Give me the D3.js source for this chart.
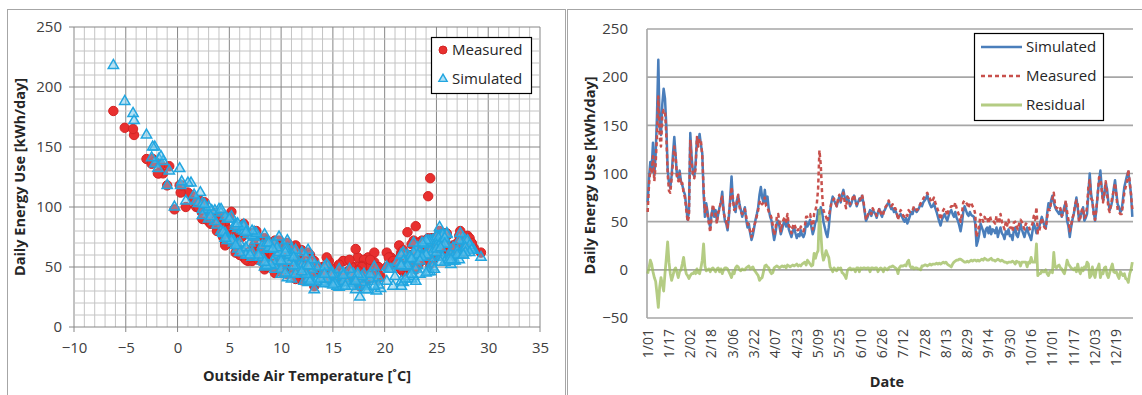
<!DOCTYPE html>
<html>
<head>
<meta charset="utf-8">
<script src="https://cdn.jsdelivr.net/npm/d3@7"></script>
<style>
  body { margin: 0; background: #fff; }
  svg { display: block; font-family: "Open Sans", sans-serif; }
</style>
</head>
<body>
<svg id="chart" width="1142" height="395"></svg>
<script>
// Daily values, 1 Jan .. 31 Dec (365 days)
const simulated = [
  70,95,112,105,132,98,120,160,218,150,140,172,188,178,150,105,90,85,98,120,138,118,98,95,103,92,88,82,78,65,52,
  60,142,118,100,97,110,136,132,141,130,121,80,55,69,60,50,44,58,65,55,62,51,58,65,70,81,62,51,
  48,41,55,75,97,72,65,60,72,77,68,62,55,60,65,52,44,48,38,31,36,44,52,58,65,78,86,75,70,83,68,
  76,62,55,51,40,31,38,48,51,45,37,42,48,51,45,52,42,38,34,40,44,38,33,37,35,41,36,34,38,50,
  45,48,52,44,37,42,50,51,62,58,65,60,50,44,38,34,44,60,70,76,72,69,66,72,76,70,78,83,75,72,76,
  72,66,69,74,77,72,66,70,74,72,77,70,60,51,54,58,62,56,62,60,58,54,60,63,58,55,60,62,65,68,
  70,66,63,64,60,62,58,54,56,58,55,52,50,54,48,52,56,60,58,64,62,60,62,65,69,66,70,72,74,78,72,
  68,65,66,69,64,60,55,50,46,52,55,58,54,51,56,60,62,58,55,60,54,51,46,40,48,60,66,62,58,56,60,
  57,56,55,48,25,30,37,48,44,40,34,42,44,38,45,37,42,41,38,44,34,40,44,38,36,32,40,37,42,35,
  36,31,41,44,36,34,40,48,42,38,34,40,44,38,35,31,40,48,44,38,44,44,50,55,50,46,43,58,69,64,72,
  77,70,65,62,60,58,62,55,60,66,70,51,45,34,44,52,58,66,75,64,51,56,60,65,51,54,58,80,100,79,
  70,60,51,62,79,92,103,85,72,78,90,84,70,62,66,72,84,93,80,68,65,60,62,74,86,92,98,102,90,79,55
];
const measured = [
  60,88,105,100,118,92,110,140,180,138,128,160,166,165,140,100,82,80,95,112,128,118,96,92,100,88,90,80,75,62,50,
  55,135,112,98,95,105,138,128,136,134,118,85,60,66,56,48,39,55,68,60,58,48,60,62,72,76,60,54,
  50,44,58,70,86,75,62,64,70,78,65,60,58,62,63,55,48,45,40,34,40,46,50,56,62,70,72,68,70,75,66,
  65,60,58,54,46,36,42,55,58,50,40,48,52,55,50,58,46,44,38,45,48,44,40,42,40,45,42,40,45,55,
  55,56,58,50,42,58,62,68,84,124,109,79,62,58,55,50,56,62,70,72,74,70,66,74,78,72,76,80,70,64,76,
  74,68,70,75,78,70,68,72,72,74,78,72,62,52,56,60,60,58,64,61,60,56,58,64,60,56,58,64,66,68,
  72,68,66,68,64,64,60,52,58,62,60,56,55,58,56,62,60,62,62,66,64,62,63,66,69,70,74,76,78,80,76,
  74,70,72,75,70,66,62,58,52,58,62,64,62,56,62,64,66,66,64,70,64,60,56,50,58,70,72,70,68,64,70,
  69,66,64,58,34,40,46,58,54,50,55,52,54,48,56,51,52,50,48,56,48,50,58,50,46,42,50,46,52,44,
  44,40,49,50,45,42,48,52,50,46,42,48,47,46,42,44,48,56,52,65,38,40,46,54,48,44,43,54,63,62,70,
  74,80,67,64,64,62,64,56,58,62,72,60,52,40,46,54,58,68,72,68,50,54,62,64,54,56,66,86,93,74,
  72,56,52,64,78,96,95,82,70,80,92,80,64,60,68,76,82,90,78,62,60,58,58,68,80,86,92,104,92,78,63
];
const residual = [
  -4,2,10,6,-2,-8,-12,-25,-39,-18,-8,-15,-22,-4,12,29,8,-4,-11,-6,0,2,-3,-8,-2,0,6,13,2,-4,-6,
  -9,-6,-4,-4,-2,-4,1,-3,-4,2,10,27,4,-1,0,1,-2,1,2,0,-2,1,2,-2,1,-4,0,2,
  2,1,-2,-5,-8,-2,-4,2,4,3,0,-1,1,0,0,2,3,4,1,2,3,0,-2,-4,-6,-11,-9,-8,-2,4,5,
  3,2,-2,-4,-3,2,3,4,3,2,3,4,3,4,2,5,4,3,4,5,4,5,6,4,5,4,6,7,8,5,
  10,8,6,4,5,17,12,17,20,62,40,18,10,14,20,16,13,3,1,-2,2,0,-1,2,1,2,-3,-4,-6,-9,-1,
  1,2,0,1,1,-2,2,2,-2,2,1,2,2,1,2,2,-2,2,2,1,2,2,-2,1,2,1,-2,2,1,0,
  2,3,3,4,3,2,1,-4,2,4,4,4,5,4,8,10,4,2,3,1,2,2,1,1,0,4,4,5,5,4,5,
  6,5,6,6,6,7,6,7,6,7,8,7,8,6,5,4,3,6,8,9,10,10,11,11,10,9,8,8,9,8,9,
  10,9,10,10,9,10,9,10,11,10,12,11,10,10,11,12,10,10,9,10,11,10,9,10,9,8,8,7,8,8,
  8,9,8,6,9,8,8,4,8,8,8,8,3,8,7,13,8,8,8,27,-6,-4,-4,-1,-2,-2,0,-4,-6,-2,-2,
  -3,18,3,2,4,5,2,1,-2,-4,2,10,6,4,2,1,0,2,-2,6,-1,-4,2,-1,3,2,8,6,-8,-6,
  3,-4,-8,0,2,6,-8,-3,-4,2,3,-5,-8,-3,2,6,-2,-3,-2,-6,-9,-2,-4,-6,-4,-9,-10,-13,-4,0,8
];
const outsideTemp = [
  7.0,3.0,2.2,1.8,0.2,4.0,1.3,-3.0,-6.2,-2.2,-1.8,-4.2,-5.1,-4.3,-2.4,0.8,4.8,3.8,2.4,1.0,-1.4,-1.0,2.8,4.2,2.0,4.6,3.6,5.8,4.4,8.2,10.2,
  6.8,-1.6,0.3,-0.3,3.6,1.6,-2.2,-1.9,-2.5,-0.8,0.4,4.2,10.2,5.8,9.6,8.4,12.0,7.2,9.0,10.8,6.4,11.6,7.8,8.8,5.4,6.2,9.8,8.8,
  12.2,10.6,11.0,4.8,3.3,7.6,5.8,9.6,5.4,6.8,8.2,6.4,10.6,7.0,9.0,8.6,13.0,9.4,14.4,13.2,15.6,10.0,11.8,7.8,11.0,4.6,5.6,7.4,8.8,6.2,10.2,
  7.2,10.4,8.2,12.0,11.0,17.2,12.2,13.0,9.4,14.0,12.6,15.2,10.0,13.2,11.0,12.4,15.4,13.0,17.8,12.8,15.0,17.0,15.6,14.0,18.2,16.4,14.8,16.0,19.0,14.6,
  16.0,11.6,14.4,17.0,15.0,18.4,20.2,21.4,23.0,24.4,24.2,22.2,19.0,17.4,16.0,15.4,18.0,21.6,24.0,25.0,24.6,23.8,23.2,24.6,25.6,24.2,26.0,25.3,25.0,24.4,25.4,
  24.2,26.6,23.8,27.6,25.6,24.0,27.2,23.6,25.2,27.8,26.0,22.8,25.4,23.2,21.2,25.4,22.8,26.0,21.8,26.2,22.4,24.6,21.6,27.0,25.6,21.8,26.4,23.4,27.6,25.0,
  25.6,27.8,24.4,28.2,23.6,27.4,26.6,22.4,26.2,23.4,26.0,22.2,24.6,25.8,23.0,26.4,22.6,27.6,29.3,28.6,24.6,27.2,25.0,28.4,26.0,28.4,25.4,27.2,25.8,27.3,28.0,
  28.2,25.0,27.8,25.8,28.4,24.0,26.8,22.0,24.4,21.6,26.4,23.2,25.8,22.2,27.2,24.0,28.2,23.4,26.6,23.2,25.4,21.6,24.2,22.6,20.6,27.0,25.4,27.8,23.6,26.2,27.6,
  22.6,26.4,23.4,24.8,17.6,19.2,21.8,20.4,23.4,18.6,20.8,22.8,19.0,21.6,24.0,17.8,22.4,19.4,23.0,18.6,21.6,17.4,22.6,20.2,16.8,19.6,22.0,16.4,21.0,19.4,
  15.2,18.4,13.8,16.8,14.2,19.0,12.6,15.6,17.8,13.4,16.8,14.4,17.4,12.8,15.0,18.2,13.8,16.6,12.4,17.2,14.8,11.4,13.6,9.8,14.2,12.0,16.0,11.4,9.2,12.6,10.6,
  8.4,6.0,10.6,7.2,11.0,8.2,12.0,9.2,10.8,6.6,9.4,12.8,10.4,16.2,14.2,9.0,12.4,8.8,9.8,11.4,8.6,13.0,7.8,10.4,12.6,8.4,11.2,6.4,3.0,7.4,
  8.6,6.6,11.2,9.8,4.4,5.2,2.4,6.4,4.8,7.6,3.0,5.6,8.8,6.0,9.6,5.2,6.4,2.4,7.2,5.6,9.2,7.0,10.4,4.6,5.8,3.2,4.2,2.6,5.0,6.6,10.0
];
const dateTicks = ["1/01","1/17","2/02","2/18","3/06","3/22","4/07","4/23","5/09","5/25","6/10","6/26",
  "7/12","7/28","8/13","8/29","9/14","9/30","10/16","11/01","11/17","12/03","12/19"];
const scatterSeries = ["Measured", "Simulated"];
const lineSeries = ["Simulated", "Measured", "Residual"];

const svg = d3.select("#chart");
const GRID_MINOR = "#c4c4c4", GRID_MAJOR = "#868686", FRAME = "#a6a6a6";

// outer chart frames
svg.append("rect").attr("x", 7.5).attr("y", 9.5).attr("width", 558).attr("height", 400)
  .attr("fill", "none").attr("stroke", FRAME);
svg.append("rect").attr("x", 567.5).attr("y", 9.5).attr("width", 580).attr("height", 400)
  .attr("fill", "none").attr("stroke", FRAME);

// ---------------- left: scatter vs temperature ----------------
const xT = d3.scaleLinear().domain([-10, 35]).range([74, 540]);
const yE = d3.scaleLinear().domain([0, 250]).range([327, 27]);
const left = svg.append("g");

// grid
left.append("g").selectAll("line").data(d3.range(-10, 36, 1)).join("line")
  .attr("x1", d => xT(d)).attr("x2", d => xT(d))
  .attr("y1", yE(250)).attr("y2", d => yE(0) + (d % 5 === 0 ? 5 : 0))
  .attr("stroke", d => d % 5 === 0 ? GRID_MAJOR : GRID_MINOR).attr("stroke-width", 1);
left.append("g").selectAll("line").data(d3.range(0, 251, 10)).join("line")
  .attr("y1", d => yE(d)).attr("y2", d => yE(d))
  .attr("x1", d => xT(-10) - (d % 50 === 0 ? 5 : 0)).attr("x2", xT(35))
  .attr("stroke", d => d % 50 === 0 ? GRID_MAJOR : GRID_MINOR).attr("stroke-width", 1);

// axes labels
const xAxL = left.append("g").attr("transform", `translate(0,${yE(0) + 12})`)
  .call(d3.axisBottom(xT).tickValues(d3.range(-10, 36, 5)).tickSize(0));
const yAxL = left.append("g").attr("transform", `translate(${xT(-10) - 9},0)`)
  .call(d3.axisLeft(yE).tickValues(d3.range(0, 251, 50)).tickSize(0));
[xAxL, yAxL].forEach(a => {
  a.select(".domain").remove();
  a.selectAll("text").attr("font-family", "Open Sans").attr("font-size", 15).attr("fill", "#404040");
});

left.append("text").attr("x", 307).attr("y", 381).attr("text-anchor", "middle")
  .attr("font-size", 14.5).attr("font-weight", "bold").attr("fill", "#262626")
  .text("Outside Air Temperature [˚C]");
left.append("text").attr("transform", `translate(25,${(yE(0) + yE(250)) / 2}) rotate(-90)`)
  .attr("text-anchor", "middle").attr("font-size", 14.5).attr("font-weight", "bold").attr("fill", "#262626")
  .text("Daily Energy Use [kWh/day]");

// points
const triangle = d3.symbol(d3.symbolTriangle, 46);
left.append("g").selectAll("circle").data(measured).join("circle")
  .attr("cx", (d, i) => xT(outsideTemp[i])).attr("cy", d => yE(d)).attr("r", 4.7)
  .attr("fill", "#e8302f").attr("stroke", "#d42424").attr("stroke-width", 1);
left.append("g").selectAll("path").data(simulated).join("path")
  .attr("d", triangle)
  .attr("transform", (d, i) => `translate(${xT(outsideTemp[i])},${yE(d)})`)
  .attr("fill", "#62c3ee").attr("fill-opacity", 0.45).attr("stroke", "#22a6e0").attr("stroke-width", 1.5);

// legend
const legL = left.append("g").attr("transform", "translate(431,37)");
legL.append("rect").attr("x", 0.5).attr("y", 0.5).attr("width", 100).attr("height", 56)
  .attr("fill", "#fff").attr("stroke", "#000").attr("stroke-width", 1.2);
scatterSeries.forEach((name, i) => {
  const yy = 13 + i * 29;
  if (name === "Measured") {
    legL.append("circle").attr("cx", 12).attr("cy", yy).attr("r", 4)
      .attr("fill", "#e8302f").attr("stroke", "#d42424");
  } else {
    legL.append("path").attr("d", d3.symbol(d3.symbolTriangle, 30))
      .attr("transform", `translate(12,${yy})`)
      .attr("fill", "#62c3ee").attr("fill-opacity", 0.5).attr("stroke", "#22a6e0").attr("stroke-width", 1.4);
  }
  legL.append("text").attr("x", 21).attr("y", yy).attr("dy", "0.35em")
    .attr("font-size", 15).attr("fill", "#262626").text(name);
});

// ---------------- right: time series ----------------
const xD = d3.scaleLinear().domain([-0.5, 364.5]).range([647, 1133]);
const yV = d3.scaleLinear().domain([-50, 250]).range([318, 29]);
const right = svg.append("g");

right.append("g").selectAll("line").data(d3.range(-50, 251, 50)).join("line")
  .attr("x1", xD.range()[0]).attr("x2", xD.range()[1])
  .attr("y1", d => yV(d)).attr("y2", d => yV(d))
  .attr("stroke", FRAME).attr("stroke-width", 1.6);
right.append("line").attr("x1", xD.range()[0]).attr("x2", xD.range()[0])
  .attr("y1", yV(250)).attr("y2", yV(-50)).attr("stroke", FRAME).attr("stroke-width", 1.6);

const yAxR = right.append("g").attr("transform", `translate(${xD.range()[0] - 16},0)`)
  .call(d3.axisLeft(yV).tickValues(d3.range(-50, 251, 50)).tickSize(0));
yAxR.select(".domain").remove();
yAxR.selectAll("text").attr("font-family", "Open Sans").attr("font-size", 15).attr("fill", "#404040");

const dayOf = s => {
  const [m, d] = s.split("/").map(Number);
  return d3.timeDay.count(new Date(2015, 0, 1), new Date(2015, m - 1, d));
};
right.append("g").selectAll("text").data(dateTicks).join("text")
  .attr("transform", d => `translate(${xD(dayOf(d))},${yV(-50) + 11}) rotate(-90)`)
  .attr("text-anchor", "end").attr("dy", "0.35em")
  .attr("font-size", 14).attr("fill", "#404040").text(d => d);

right.append("text").attr("x", 887).attr("y", 387).attr("text-anchor", "middle")
  .attr("font-size", 14.5).attr("font-weight", "bold").attr("fill", "#262626").text("Date");
right.append("text").attr("transform", `translate(595,${(yV(-50) + yV(250)) / 2 + 2}) rotate(-90)`)
  .attr("text-anchor", "middle").attr("font-size", 14.5).attr("font-weight", "bold").attr("fill", "#262626")
  .text("Daily Energy Use [kWh/day]");

const line = d3.line().x((d, i) => xD(i)).y(d => yV(d));
const styles = {
  Simulated: { data: simulated, stroke: "#4a7ebb", width: 2.5, dash: null, opacity: 1 },
  Measured:  { data: measured,  stroke: "#c8504c", width: 2.5, dash: "4,3", opacity: 1 },
  Residual:  { data: residual,  stroke: "#9bbb59", width: 2.8, dash: null, opacity: 0.75 }
};
lineSeries.forEach(name => {
  const s = styles[name];
  right.append("path").datum(s.data).attr("d", line)
    .attr("fill", "none").attr("stroke", s.stroke).attr("stroke-width", s.width)
    .attr("stroke-dasharray", s.dash).attr("stroke-opacity", s.opacity)
    .attr("stroke-linejoin", "round");
});

// legend
const legR = right.append("g").attr("transform", "translate(974,33)");
legR.append("rect").attr("x", 0.5).attr("y", 0.5).attr("width", 129).attr("height", 87)
  .attr("fill", "#fff").attr("stroke", "#000").attr("stroke-width", 1.2);
lineSeries.forEach((name, i) => {
  const s = styles[name];
  const yy = 14 + i * 29;
  legR.append("line").attr("x1", 7).attr("x2", 48).attr("y1", yy).attr("y2", yy)
    .attr("stroke", s.stroke).attr("stroke-width", s.width).attr("stroke-dasharray", s.dash)
    .attr("stroke-opacity", s.opacity);
  legR.append("text").attr("x", 52).attr("y", yy).attr("dy", "0.35em")
    .attr("font-size", 15).attr("fill", "#262626").text(name);
});
</script>
</body>
</html>
